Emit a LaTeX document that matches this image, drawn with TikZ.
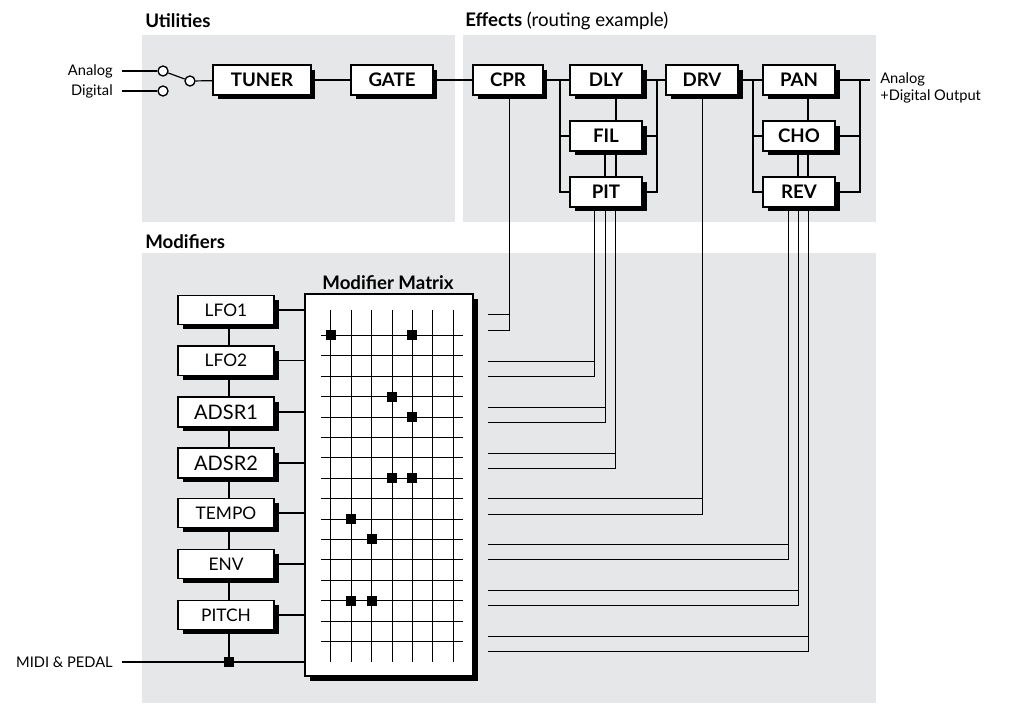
\documentclass[tikz,border=0pt]{standalone}
\usepackage{fontspec}
\setmainfont{Lato}
\usetikzlibrary{shadows,calc}
\definecolor{bg}{RGB}{230,231,232}
\begin{document}
\begin{tikzpicture}[x=0.75pt,y=-0.75pt,
  fx/.style={draw=black,line width=1.3pt,fill=white,minimum height=22pt,inner sep=0pt,
     font=\bfseries\fontsize{14}{14}\selectfont,
     drop shadow={shadow xshift=3.5pt,shadow yshift=-3.5pt,opacity=1,fill=black}},
  md/.style={fx,font=\fontsize{13}{13}\selectfont,minimum width=72pt,line width=1pt},
  ln/.style={line width=0.9pt},
  thin/.style={line width=0.6pt},
  sw/.style={circle,draw,line width=1pt,fill=white,minimum size=7.5pt,inner sep=0pt},
  dot/.style={fill=black,minimum size=7.5pt,inner sep=0pt},
  lbl/.style={font=\fontsize{11}{13}\selectfont,inner sep=0pt},
  ttl/.style={font=\bfseries\fontsize{14}{14}\selectfont,anchor=west,inner sep=0pt}]
\useasboundingbox (0,0) rectangle (1010,704);
% backgrounds
\fill[bg] (142,35) rectangle (455,222);
\fill[bg] (463,35) rectangle (876,222);
\fill[bg] (142,253) rectangle (876,703);
\node[ttl] (tU) at (145,21) {Utilities};
\node[ttl] (tE) at (465,21) {Effects {\mdseries (routing example)}};
\node[ttl] (tM) at (145,242) {Modifiers};
% input switch
\node[sw] (sa) at (163,71) {};
\node[sw] (sd) at (163,91) {};
\node[sw] (so) at (190,81) {};
\node[lbl,anchor=east] (la) at (113,71) {Analog};
\node[lbl,anchor=east] (ld) at (113,91) {Digital};
\coordinate (la1) at (122,71); \coordinate (ld1) at (122,91);
\draw[ln] (la1) -- (sa); \draw[ln] (ld1) -- (sd); \draw[ln] (sa) -- (so);
% utilities
\node[fx,minimum width=73pt] (TUNER) at (262,80) {TUNER};
\node[fx,minimum width=61pt] (GATE) at (392,80) {GATE};
% effects
\node[fx,minimum width=52pt] (CPR) at (508,80) {CPR};
\node[fx,minimum width=54pt] (DLY) at (606,80) {DLY};
\node[fx,minimum width=54pt] (FIL) at (606,136) {FIL};
\node[fx,minimum width=54pt] (PIT) at (606,192) {PIT};
\node[fx,minimum width=54pt] (DRV) at (702,80) {DRV};
\node[fx,minimum width=54pt] (PAN) at (799,80) {PAN};
\node[fx,minimum width=54pt] (CHO) at (799,136) {CHO};
\node[fx,minimum width=54pt] (REV) at (799,192) {REV};
\node[lbl,anchor=north west,align=left] (out) at (880,72) {Analog\\+Digital Output};
\coordinate (outx) at (870,80);
\draw[ln] (so) -- (TUNER); \draw[ln] (TUNER) -- (GATE); \draw[ln] (GATE) -- (CPR);
\draw[ln] (CPR) -- (DLY); \draw[ln] (DLY) -- (DRV); \draw[ln] (DRV) -- (PAN);
\draw[ln] (PAN.east) -- (outx);
\draw[ln] (560,80) |- (PIT.west) (560,136) -- (FIL.west);
\draw[ln] (657,80) |- (PIT.east) (657,136) -- (FIL.east);
\draw[ln] (753,80) |- (REV.west) (753,136) -- (CHO.west);
\draw[ln] (860,80) |- (REV.east) (860,136) -- (CHO.east);
\draw[ln] (616,0 |- DLY.south) -- (616,0 |- FIL.north);
\draw[ln] (605,0 |- FIL.south) -- (605,0 |- PIT.north);
\draw[ln] (616,0 |- FIL.south) -- (616,0 |- PIT.north);
\draw[ln] (808,0 |- PAN.south) -- (808,0 |- CHO.north);
\draw[ln] (798,0 |- CHO.south) -- (798,0 |- REV.north);
\draw[ln] (808,0 |- CHO.south) -- (808,0 |- REV.north);
% modifier matrix
\node[draw,line width=1.2pt,fill=white,minimum width=126pt,minimum height=286.5pt,inner sep=0pt,
  drop shadow={shadow xshift=3.5pt,shadow yshift=-3.5pt,opacity=1,fill=black}] (MM) at (389,485) {};
\node[font=\bfseries\fontsize{14}{14}\selectfont,anchor=south,inner sep=0pt] (MMt) at (388,290) {Modifier Matrix};
\foreach \i in {0,...,15} \draw[thin] (321,335.3+20.4*\i) -- (463,335.3+20.4*\i);
\foreach \j in {0,...,6} \draw[thin] (330.7+20.4*\j,310) -- (330.7+20.4*\j,662);
\foreach \r/\c in {0/0,0/4,3/3,4/4,7/3,7/4,9/1,10/2,13/1,13/2}
  \node[dot] at (330.7+20.4*\c,335.3+20.4*\r) {};
% matrix outputs to effects
\draw[thin] (488,314) -- (509,314);
\draw[thin] (488,330) -- (509,330) -- (509,0 |- CPR.south);
\foreach \ya/\yb/\xx in {361/376/594,407/422/605,453/468/615} {
  \draw[thin] (488,\ya) -- (\xx,\ya);
  \draw[thin] (488,\yb) -- (\xx,\yb) -- (\xx,0 |- PIT.south);}
\draw[thin] (488,498) -- (702,498);
\draw[thin] (488,514) -- (702,514) -- (702,0 |- DRV.south);
\foreach \ya/\yb/\xx in {544/559/788,590/605/798,636/651/808} {
  \draw[thin] (488,\ya) -- (\xx,\ya);
  \draw[thin] (488,\yb) -- (\xx,\yb) -- (\xx,0 |- REV.south);}
% modifiers
\node[md] (LFO1) at (226,310) {LFO1};
\node[md] (LFO2) at (226,360.5) {LFO2};
\node[md,font=\fontsize{15}{15}\selectfont,line width=1.4pt] (ADSR1) at (226,412) {ADSR1};
\node[md,font=\fontsize{15}{15}\selectfont,line width=1.4pt] (ADSR2) at (226,463) {ADSR2};
\node[md] (TEMPO) at (226,513) {TEMPO};
\node[md] (ENV) at (226,564) {ENV};
\node[md] (PITCH) at (226,615) {PITCH};
\foreach \n in {LFO1,LFO2,ADSR1,ADSR2,TEMPO,ENV,PITCH}
  \draw[ln] (\n.east) -- (\n.east -| MM.west);
\draw[ln] (229,0 |- LFO1.south) -- (229,0 |- LFO2.north)
          (229,0 |- LFO2.south) -- (229,0 |- ADSR1.north)
          (229,0 |- ADSR1.south) -- (229,0 |- ADSR2.north)
          (229,0 |- ADSR2.south) -- (229,0 |- TEMPO.north)
          (229,0 |- TEMPO.south) -- (229,0 |- ENV.north)
          (229,0 |- ENV.south) -- (229,0 |- PITCH.north);
\node[lbl,anchor=east] (midi) at (113,662) {MIDI \& PEDAL};
\node[dot] (mj) at (229,662) {};
\coordinate (mi) at (122,662);
\draw[ln] (mi) -- (mi -| MM.west);
\draw[ln] (229,0 |- PITCH.south) -- (mj);
\end{tikzpicture}
\end{document}
